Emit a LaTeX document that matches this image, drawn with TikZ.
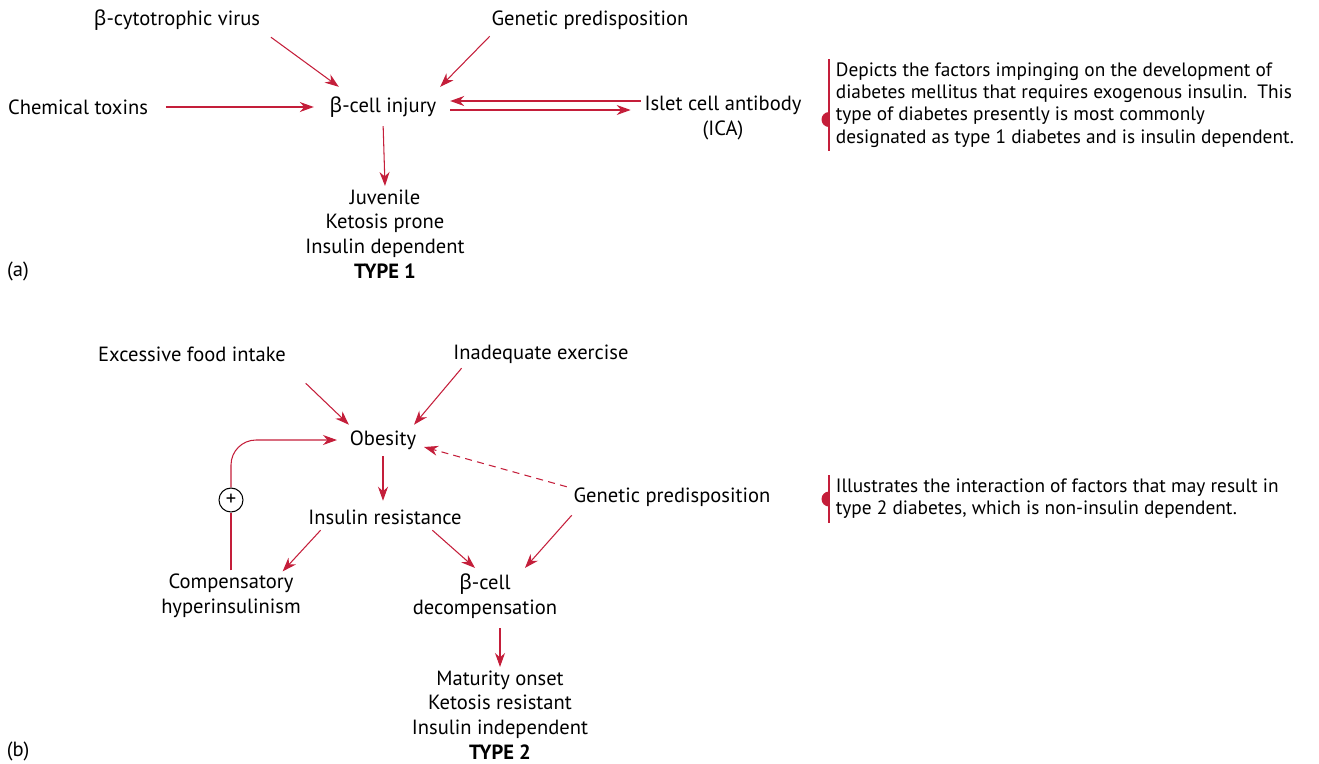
\documentclass[tikz,border=0pt]{standalone}
\usepackage{fontspec}
\setmainfont{PT Sans}
\newfontfamily\greekfont{Noto Sans}
\newcommand{\betaletter}{{\greekfont β}}
\usetikzlibrary{arrows.meta}
\definecolor{arrowred}{RGB}{196,30,58}
\begin{document}
\begin{tikzpicture}[every node/.style={font=\fontsize{11.7}{14}\selectfont,inner sep=2pt},
  arr/.style={-{Stealth[length=2.8mm,width=2mm,inset=0.9mm]},arrowred,line width=0.6pt},
  notebar/.style={arrowred,line width=1pt},
  notetext/.style={align=left,anchor=west,font=\fontsize{11}{12.6}\selectfont}]
\useasboundingbox (0,0) rectangle (26.38,-15.26);
% type 1
\node (virus) at (3.54,-0.40) {\betaletter-cytotrophic virus};
\node (gen1) at (11.80,-0.40) {Genetic predisposition};
\node (chem) at (1.56,-2.14) {Chemical toxins};
\node (inj) at (7.66,-2.14) {\betaletter-cell injury};
\node[align=center] (ica) at (14.46,-2.36) {Islet cell antibody\\(ICA)};
\node[align=center] (juv) at (7.70,-4.68) {Juvenile\\Ketosis prone\\Insulin dependent\\\textbf{TYPE 1}};
\node (laba) at (0.36,-5.42) {(a)};
\draw[arr] ([shift={(0.14,-0.06)}]virus.south east) -- ([shift={(0.26,0.12)}]inj.north west);
\draw[arr] ([shift={(0.04,-0.06)}]gen1.south west) -- ([shift={(0,0.12)}]inj.north east);
\draw[arr] ([xshift=0.28cm]chem.east) -- ([xshift=-0.24cm]inj.west);
\draw[arr,shorten <=0.2cm] ([shift={(0.2,0.12)}]inj.east -| ica.west) -- ([shift={(0.2,0.12)}]inj.east);
\draw[arr] ([shift={(0.2,-0.06)}]inj.east) -- ([shift={(-0.2,-0.06)}]inj.east -| ica.west);
\draw[arr,shorten <=0.1cm] (inj.south) -- (juv.north);
% note a
\node[notetext] (notea) at (16.64,-2.10) {Depicts the factors impinging on the development of\\diabetes mellitus that requires exogenous insulin.\, This\\type of diabetes presently is most commonly\\designated as type 1 diabetes and is insulin dependent.};
\draw[notebar] ([xshift=-0.06cm]notea.north west) -- ([xshift=-0.06cm]notea.south west);
\fill[arrowred] ([shift={(-0.06,-0.44)}]notea.west) arc (270:90:0.15) -- cycle;
% type 2
\node (food) at (3.84,-7.08) {Excessive food intake};
\node (exer) at (10.82,-7.08) {Inadequate exercise};
\node (obes) at (7.66,-8.80) {Obesity};
\node (gen2) at (13.44,-9.94) {Genetic predisposition};
\node (insr) at (7.70,-10.34) {Insulin resistance};
\node[align=center] (comp) at (4.62,-11.92) {Compensatory\\hyperinsulinism};
\node[align=center] (beta) at (9.70,-11.92) {\betaletter-cell\\decompensation};
\node[align=center] (mat) at (10.00,-14.30) {Maturity onset\\Ketosis resistant\\Insulin independent\\\textbf{TYPE 2}};
\node (labb) at (0.36,-15.02) {(b)};
\node[draw,circle,inner sep=0.5pt,minimum size=0.48cm,line width=0.6pt] (plus) at (4.62,-10.00) {+};
\draw[arr] ([shift={(0.32,-0.36)}]food.south east) -- ([shift={(0.06,0.04)}]obes.north west);
\draw[arr] ([shift={(0.24,-0.02)}]exer.south west) -- ([shift={(-0.12,0.04)}]obes.north east);
\draw[arr,shorten <=0.06cm,shorten >=0.1cm] (obes.south) -- (obes.south |- insr.north);
\draw[arr,dash pattern=on 4pt off 3pt] ([shift={(-0.06,-0.06)}]gen2.north west) -- ([shift={(0.08,-0.14)}]obes.east);
\draw[arr] ([shift={(0.32,-0.04)}]insr.south west) -- ([shift={(-0.44,-0.02)}]comp.north east);
\draw[arr] ([shift={(-0.66,-0.04)}]insr.south east) -- ([shift={(-0.2,0.04)}]beta.north);
\draw[arr] ([shift={(0.04,-0.1)}]gen2.south west) -- ([shift={(0.8,0.04)}]beta.north);
\draw[arr,shorten <=0.12cm] (beta.south -| mat.north) -- (mat.north);
% feedback loop
\draw[arrowred,line width=0.6pt] (comp.north) -- (plus.south);
\draw[arr,rounded corners=0.5cm] (plus.north) |- ([xshift=-0.18cm]obes.west);
% note b
\node[notetext] (noteb) at (16.64,-9.98) {Illustrates the interaction of factors that may result in\\type 2 diabetes, which is non-insulin dependent.};
\draw[notebar] ([xshift=-0.06cm]noteb.north west) -- ([xshift=-0.06cm]noteb.south west);
\fill[arrowred] ([shift={(-0.06,-0.15)}]noteb.west) arc (270:90:0.15) -- cycle;
\end{tikzpicture}
\end{document}
